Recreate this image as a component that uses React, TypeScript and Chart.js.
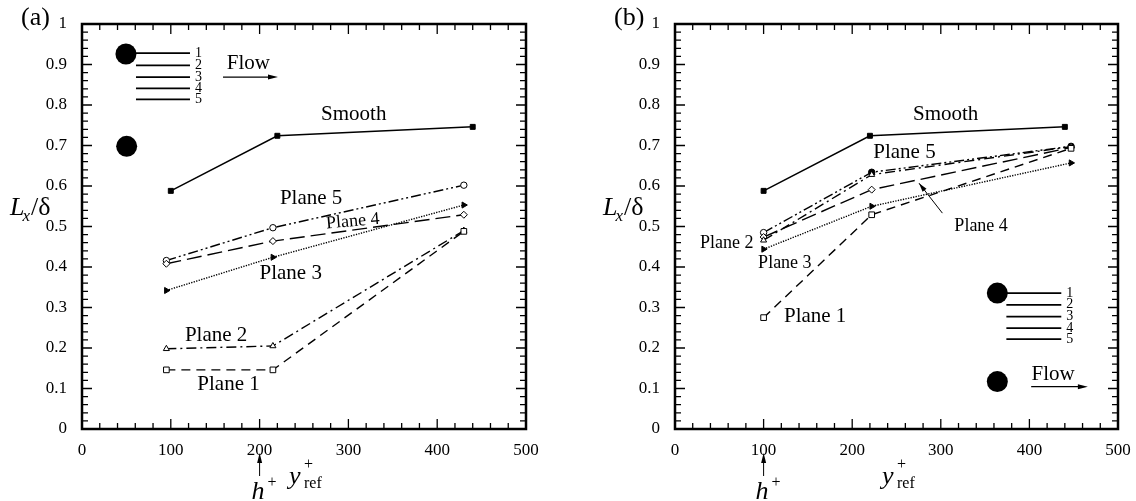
import React, { useEffect, useRef } from "react";
import { Chart, registerables } from "chart.js";
Chart.register(...registerables);

const FONT = "'Liberation Serif', 'Times New Roman', serif";

// ---------- axis ticks ----------
const xTickValues = [0, 100, 200, 300, 400, 500];
const xTickLabels = ["0", "100", "200", "300", "400", "500"];
const yTickValues = [0, 0.1, 0.2, 0.3, 0.4, 0.5, 0.6, 0.7, 0.8, 0.9, 1];
const yTickLabels = ["0", "0.1", "0.2", "0.3", "0.4", "0.5", "0.6", "0.7", "0.8", "0.9", "1"];
const xMinorStep = 20;
const yMinorStep = 0.02;

// ---------- panel (a) data ----------
const xSmoothA = [100, 220, 440];
const smoothA = [0.588, 0.724, 0.746];
const xPlanesA = [95, 215, 430];
const plane1A = [0.146, 0.146, 0.488];
const plane2A = [0.198, 0.205, 0.49];
const plane3A = [0.342, 0.424, 0.553];
const plane4A = [0.408, 0.464, 0.529];
const plane5A = [0.416, 0.497, 0.602];
const hPlusA = 200;

// ---------- panel (b) data ----------
const xSmoothB = [100, 220, 440];
const smoothB = [0.588, 0.724, 0.746];
const xPlanesB = [100, 222, 447];
const plane1B = [0.275, 0.529, 0.693];
const plane2B = [0.466, 0.628, 0.697];
const plane3B = [0.444, 0.55, 0.657];
const plane4B = [0.474, 0.591, 0.695];
const plane5B = [0.485, 0.634, 0.698];
const hPlusB = 100;

type Series = {
  x: number[];
  y: number[];
  dash: number[];
  width: number;
  style: string;
  radius: number;
  rotation: number;
  fill: string | string[];
};

const smoothStyle = { dash: [], width: 1.5, style: "rect", radius: 3.5, rotation: 0, fill: "#000" };
const p1Style = { dash: [9, 6], width: 1.4, style: "rect", radius: 4, rotation: 0, fill: "#fff" };
const p2Style = { dash: [10, 4, 2, 4], width: 1.4, style: "triangle", radius: 3.5, rotation: 0, fill: "#fff" };
const p3Style = { dash: [1.3, 1.3], width: 1.4, style: "triangle", radius: 3.5, rotation: 90, fill: "#000" };
const p4Style = { dash: [15, 6], width: 1.4, style: "rectRot", radius: 3.5, rotation: 0, fill: "#fff" };
const p5Style = { dash: [10, 3, 2, 3, 2, 3], width: 1.4, style: "circle", radius: 3.2, rotation: 0, fill: "#fff" };

type TextAnn = { x: number; y: number; text: string; size: number; rot?: number };

type Panel = {
  label: string;
  axisLeft: number;
  padRight: number;
  hPlus: number;
  series: Series[];
  texts: TextAnn[];
  circles: { x: number; y: number }[];
  legendLines: { x1: number; x2: number; y: number; n: string }[];
  flowText: { x: number; y: number };
  flowArrow: { x1: number; x2: number; y: number };
  extraArrows: { x1: number; y1: number; x2: number; y2: number }[];
};

const panelA: Panel = {
  label: "(a)",
  axisLeft: 82,
  padRight: 42,
  hPlus: hPlusA,
  series: [
    { x: xSmoothA, y: smoothA, ...smoothStyle },
    { x: xPlanesA, y: plane1A, ...p1Style },
    { x: xPlanesA, y: plane2A, ...p2Style },
    { x: xPlanesA, y: plane3A, ...p3Style },
    { x: xPlanesA, y: plane4A, ...p4Style },
    { x: xPlanesA, y: plane5A, ...p5Style },
  ],
  texts: [
    { x: 306, y: 0.776, text: "Smooth", size: 21 },
    { x: 258, y: 0.57, text: "Plane 5", size: 21 },
    { x: 305, y: 0.5125, text: "Plane 4", size: 18, rot: -5 },
    { x: 235, y: 0.383, text: "Plane 3", size: 21 },
    { x: 151, y: 0.232, text: "Plane 2", size: 21 },
    { x: 165, y: 0.111, text: "Plane 1", size: 21 },
  ],
  circles: [
    { x: 49.5, y: 0.926 },
    { x: 50.3, y: 0.698 },
  ],
  legendLines: [
    { x1: 49.5, x2: 121.6, y: 0.928, n: "1" },
    { x1: 60.8, x2: 121.6, y: 0.898, n: "2" },
    { x1: 60.8, x2: 121.6, y: 0.869, n: "3" },
    { x1: 60.8, x2: 121.6, y: 0.841, n: "4" },
    { x1: 60.8, x2: 121.6, y: 0.814, n: "5" },
  ],
  flowText: { x: 163, y: 0.902 },
  flowArrow: { x1: 158.8, x2: 220.7, y: 0.869 },
  extraArrows: [],
};

const panelB: Panel = {
  label: "(b)",
  axisLeft: 107,
  padRight: 18,
  hPlus: hPlusB,
  series: [
    { x: xSmoothB, y: smoothB, ...smoothStyle },
    { x: xPlanesB, y: plane1B, ...p1Style },
    { x: xPlanesB, y: plane2B, ...p2Style },
    { x: xPlanesB, y: plane3B, ...p3Style },
    { x: xPlanesB, y: plane4B, ...p4Style },
    { x: xPlanesB, y: plane5B, ...p5Style, fill: ["#fff", "#000", "#000"] },
  ],
  texts: [
    { x: 305.5, y: 0.776, text: "Smooth", size: 21 },
    { x: 259, y: 0.683, text: "Plane 5", size: 21 },
    { x: 345.5, y: 0.5, text: "Plane 4", size: 18 },
    { x: 58.3, y: 0.459, text: "Plane 2", size: 18 },
    { x: 124, y: 0.41, text: "Plane 3", size: 18 },
    { x: 158.2, y: 0.278, text: "Plane 1", size: 21 },
  ],
  circles: [
    { x: 363.8, y: 0.3355 },
    { x: 363.8, y: 0.117 },
  ],
  legendLines: [
    { x1: 363.8, x2: 436, y: 0.3355, n: "1" },
    { x1: 374, x2: 436, y: 0.3066, n: "2" },
    { x1: 374, x2: 436, y: 0.2777, n: "3" },
    { x1: 374, x2: 436, y: 0.249, n: "4" },
    { x1: 374, x2: 436, y: 0.2218, n: "5" },
  ],
  flowText: { x: 402.4, y: 0.1335 },
  flowArrow: { x1: 402, x2: 466, y: 0.1046 },
  extraArrows: [{ x1: 301.8, y1: 0.533, x2: 275.4, y2: 0.607 }],
};

function arrowHead(ctx: CanvasRenderingContext2D, x1: number, y1: number, x2: number, y2: number, len: number, half: number) {
  const a = Math.atan2(y2 - y1, x2 - x1);
  ctx.beginPath();
  ctx.moveTo(x2, y2);
  ctx.lineTo(x2 - len * Math.cos(a) + half * Math.sin(a), y2 - len * Math.sin(a) - half * Math.cos(a));
  ctx.lineTo(x2 - len * Math.cos(a) - half * Math.sin(a), y2 - len * Math.sin(a) + half * Math.cos(a));
  ctx.closePath();
  ctx.fill();
}

function makePlugin(panel: Panel) {
  return {
    id: "frameAndNotes",
    afterDraw(chart: any) {
      const ctx: CanvasRenderingContext2D = chart.ctx;
      const ca = chart.chartArea;
      const xs = chart.scales.x;
      const ys = chart.scales.y;
      const px = (v: number) => xs.getPixelForValue(v);
      const py = (v: number) => ys.getPixelForValue(v);
      ctx.save();
      ctx.strokeStyle = "#000";
      ctx.fillStyle = "#000";
      ctx.setLineDash([]);

      // ticks (inward, all four sides)
      ctx.lineWidth = 1.3;
      ctx.beginPath();
      for (let v = xs.min; v <= xs.max + 1e-9; v += xMinorStep) {
        const major = Math.abs(v / 100 - Math.round(v / 100)) < 1e-6;
        const L = major ? 10 : 6;
        const x = px(v);
        ctx.moveTo(x, ca.bottom);
        ctx.lineTo(x, ca.bottom - L);
        ctx.moveTo(x, ca.top);
        ctx.lineTo(x, ca.top + L);
      }
      for (let i = 0; i <= Math.round((ys.max - ys.min) / yMinorStep); i++) {
        const v = ys.min + i * yMinorStep;
        const major = i % 5 === 0;
        const L = major ? 10 : 6;
        const y = py(v);
        ctx.moveTo(ca.left, y);
        ctx.lineTo(ca.left + L, y);
        ctx.moveTo(ca.right, y);
        ctx.lineTo(ca.right - L, y);
      }
      ctx.stroke();

      // frame
      ctx.lineWidth = 2.5;
      ctx.strokeRect(ca.left, ca.top, ca.right - ca.left, ca.bottom - ca.top);

      // panel label
      ctx.font = `26px ${FONT}`;
      ctx.textAlign = "left";
      ctx.textBaseline = "middle";
      ctx.fillText(panel.label, ca.left - 61, ca.top - 6);

      // series labels
      ctx.textAlign = "center";
      ctx.textBaseline = "middle";
      panel.texts.forEach((t) => {
        ctx.save();
        ctx.font = `${t.size}px ${FONT}`;
        ctx.translate(px(t.x), py(t.y));
        if (t.rot) ctx.rotate((t.rot * Math.PI) / 180);
        ctx.fillText(t.text, 0, 0);
        ctx.restore();
      });

      // legend inset
      panel.circles.forEach((c) => {
        ctx.beginPath();
        ctx.arc(px(c.x), py(c.y), 10.5, 0, Math.PI * 2);
        ctx.fill();
      });
      ctx.lineWidth = 1.8;
      ctx.font = `14px ${FONT}`;
      ctx.textAlign = "left";
      ctx.textBaseline = "middle";
      panel.legendLines.forEach((l) => {
        ctx.beginPath();
        ctx.moveTo(px(l.x1), py(l.y));
        ctx.lineTo(px(l.x2), py(l.y));
        ctx.stroke();
        ctx.fillText(l.n, px(l.x2) + 5, py(l.y));
      });
      ctx.font = `21px ${FONT}`;
      ctx.fillText("Flow", px(panel.flowText.x), py(panel.flowText.y));
      ctx.lineWidth = 1.3;
      {
        const x1 = px(panel.flowArrow.x1), x2 = px(panel.flowArrow.x2), y = py(panel.flowArrow.y);
        ctx.beginPath();
        ctx.moveTo(x1, y);
        ctx.lineTo(x2 - 6, y);
        ctx.stroke();
        arrowHead(ctx, x1, y, x2, y, 10, 2.5);
      }
      panel.extraArrows.forEach((a) => {
        const x1 = px(a.x1), y1 = py(a.y1), x2 = px(a.x2), y2 = py(a.y2);
        ctx.lineWidth = 1;
        ctx.beginPath();
        ctx.moveTo(x1, y1);
        ctx.lineTo(x2, y2);
        ctx.stroke();
        arrowHead(ctx, x1, y1, x2, y2, 9, 2.5);
      });

      // y axis title: L_x/δ
      ctx.textAlign = "left";
      ctx.textBaseline = "alphabetic";
      {
        const x0 = ca.left - 72;
        const base = ca.top + 191;
        ctx.font = `italic 26px ${FONT}`;
        ctx.fillText("L", x0, base);
        let w = ctx.measureText("L").width;
        ctx.font = `italic 17px ${FONT}`;
        ctx.fillText("x", x0 + w - 2, base + 6);
        w += ctx.measureText("x").width - 2;
        ctx.font = `26px ${FONT}`;
        ctx.fillText("/δ", x0 + w + 1, base);
      }

      // x axis title: y+_ref
      {
        const X = ca.left + 207;
        ctx.font = `italic 26px ${FONT}`;
        ctx.fillText("y", X, ca.bottom + 55);
        ctx.font = `16px ${FONT}`;
        ctx.fillText("+", X + 15, ca.bottom + 40);
        ctx.fillText("ref", X + 15, ca.bottom + 59);
      }

      // h+ arrow
      {
        const ax = px(panel.hPlus);
        ctx.lineWidth = 1;
        ctx.beginPath();
        ctx.moveTo(ax, ca.bottom + 47);
        ctx.lineTo(ax, ca.bottom + 30);
        ctx.stroke();
        arrowHead(ctx, ax, ca.bottom + 47, ax, ca.bottom + 24, 10, 2.5);
        ctx.font = `italic 26px ${FONT}`;
        ctx.fillText("h", ax - 8, ca.bottom + 70);
        ctx.font = `16px ${FONT}`;
        ctx.fillText("+", ax + 8, ca.bottom + 58);
      }
      ctx.restore();
    },
  };
}

function makeConfig(panel: Panel): any {
  return {
    type: "scatter",
    data: {
      datasets: panel.series.map((s) => ({
        data: s.x.map((x, i) => ({ x, y: s.y[i] })),
        showLine: true,
        borderColor: "#000",
        borderWidth: s.width,
        borderDash: s.dash,
        pointStyle: s.style,
        pointRadius: s.radius,
        pointRotation: s.rotation,
        pointBackgroundColor: s.fill,
        pointBorderColor: "#000",
        pointBorderWidth: 1,
        fill: false,
        tension: 0,
      })),
    },
    options: {
      animation: false,
      responsive: false,
      maintainAspectRatio: false,
      events: [],
      layout: { padding: { left: 0, top: 24, right: panel.padRight, bottom: 0 } },
      plugins: {
        legend: { display: false },
        tooltip: { enabled: false },
        title: { display: false },
      },
      scales: {
        x: {
          type: "linear",
          min: 0,
          max: 500,
          grid: { display: false },
          border: { display: false },
          afterBuildTicks: (s: any) => {
            s.ticks = xTickValues.map((v) => ({ value: v }));
          },
          ticks: {
            callback: (_v: any, i: number) => xTickLabels[i],
            font: { family: FONT, size: 17 },
            color: "#000",
            padding: 3,
            maxRotation: 0,
            autoSkip: false,
          },
          afterFit: (s: any) => {
            s.height = 72;
          },
        },
        y: {
          type: "linear",
          min: 0,
          max: 1,
          grid: { display: false },
          border: { display: false },
          afterBuildTicks: (s: any) => {
            s.ticks = yTickValues.map((v) => ({ value: v }));
          },
          ticks: {
            callback: (_v: any, i: number) => yTickLabels[i],
            font: { family: FONT, size: 17 },
            color: "#000",
            padding: 7,
            autoSkip: false,
          },
          afterFit: (s: any) => {
            s.width = panel.axisLeft;
          },
        },
      },
    },
    plugins: [makePlugin(panel)],
  };
}

function PanelChart({ panel, left }: { panel: Panel; left: number }) {
  const ref = useRef<HTMLCanvasElement>(null);
  useEffect(() => {
    if (!ref.current) return;
    const chart = new Chart(ref.current, makeConfig(panel));
    return () => chart.destroy();
  }, [panel]);
  return (
    <canvas
      ref={ref}
      width={568}
      height={501}
      style={{ position: "absolute", left, top: 0, width: 568, height: 501 }}
    />
  );
}

export default function App() {
  return (
    <div style={{ position: "absolute", left: 0, top: 0, width: 1136, height: 501, background: "#fff" }}>
      <PanelChart panel={panelA} left={0} />
      <PanelChart panel={panelB} left={568} />
    </div>
  );
}
